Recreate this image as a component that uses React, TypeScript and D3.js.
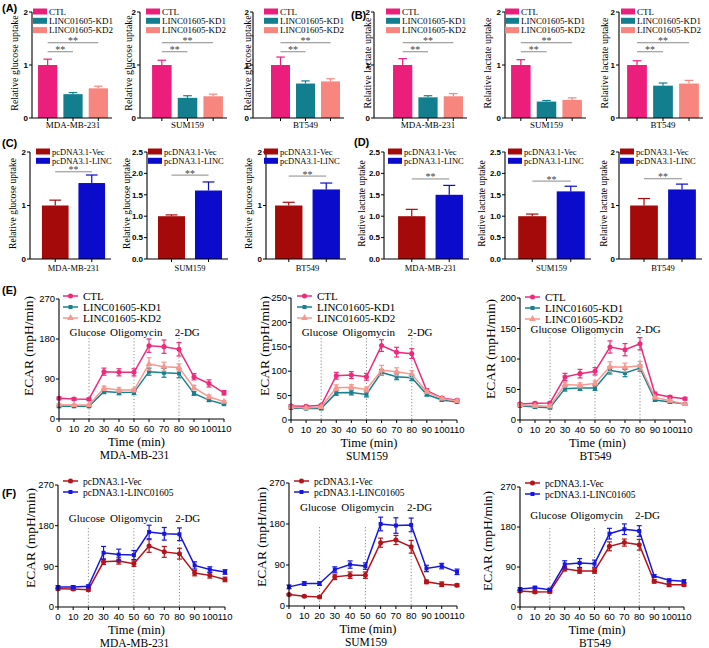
import React from 'react';
import * as d3 from 'd3';

const SERIF = '"Liberation Serif", "Times New Roman", serif';
const SANS = '"Liberation Sans", Arial, sans-serif';

// ---- bar data (A-D) ----
const cellLines = ['MDA-MB-231', 'SUM159', 'BT549'];
const kdGroups = ['CTL', 'LINC01605-KD1', 'LINC01605-KD2'];
const kdColors = ['#EC1E7B', '#137F8E', '#F7867E'];
const oeGroups = ['pcDNA3.1-Vec', 'pcDNA3.1-LINC'];
const oeColors = ['#A50A0A', '#0B0BCB'];

const glucoseKD = [[1.0, 0.45, 0.56], [1.0, 0.38, 0.41], [1.0, 0.65, 0.69]];
const glucoseKDErr = [[0.11, 0.03, 0.04], [0.09, 0.04, 0.04], [0.15, 0.05, 0.05]];
const lactateKD = [[1.0, 0.39, 0.41], [1.0, 0.31, 0.34], [1.0, 0.61, 0.65]];
const lactateKDErr = [[0.12, 0.03, 0.05], [0.1, 0.02, 0.04], [0.08, 0.05, 0.06]];
const kdSigLevels = [1.25, 1.42];

const glucoseOE = [[1.0, 1.42], [1.0, 1.6], [1.0, 1.3]];
const glucoseOEErr = [[0.1, 0.15], [0.03, 0.2], [0.06, 0.12]];
const glucoseOESig = [1.63, 1.96, 1.55];
const glucoseOEMax = [2, 2.5, 2];
const lactateOE = [[1.0, 1.5], [1.0, 1.58], [1.0, 1.3]];
const lactateOEErr = [[0.16, 0.22], [0.05, 0.12], [0.13, 0.1]];
const lactateOESig = [1.87, 1.82, 1.5];
const lactateOEMax = [2.5, 2.5, 2];

// ---- ECAR data (E-F) ----
const timeMin = [0, 10, 20, 30, 40, 50, 60, 70, 80, 90, 100, 110];
const injections = ['Glucose', 'Oligomycin', '2-DG'];
const injectionTimes = [20, 50, 80];

const ecarCTL = [
  [46.5, 45, 44.6, 106.5, 105, 105, 165, 162.8, 156.8, 95, 80, 59],
  [28.8, 28, 30, 90.7, 92, 88.6, 152.5, 139, 136, 60, 45, 40.5],
  [26.2, 27.3, 27.9, 70.5, 76, 79.8, 119.7, 115.3, 125, 42.6, 37.7, 35],
];
const ecarCTLErr = [
  [3, 3, 3, 8, 8, 8, 15, 15, 15, 7, 8, 5],
  [2, 2, 2, 7, 7, 7, 12, 10, 10, 4, 3, 2],
  [2, 2, 2, 6, 7, 6, 10, 10, 10, 3, 2, 2],
];
const ecarKD1 = [
  [28.5, 28.5, 28.5, 62, 59.5, 60, 106.5, 104, 102.6, 57.4, 42.4, 33.4],
  [24.7, 23.4, 23.4, 55.6, 56.3, 52.2, 97.5, 88.6, 86.6, 52.2, 41.2, 37],
  [23.5, 21.3, 20.2, 51.4, 52.5, 52.5, 81.4, 77, 85, 32.8, 29.5, 26.2],
];
const ecarKD1Err = [
  [2, 2, 2, 5, 5, 5, 8, 10, 10, 4, 3, 2],
  [2, 2, 2, 5, 5, 5, 6, 6, 6, 3, 3, 2],
  [2, 2, 2, 4, 4, 4, 6, 6, 5, 2, 2, 1.5],
];
const ecarKD2 = [
  [32.3, 31.5, 31.5, 69, 65.3, 65, 123.8, 117.8, 116, 70.5, 50, 39],
  [26.8, 24.7, 26.8, 66, 67.3, 62.5, 102, 99, 94, 57.7, 44, 39],
  [24.6, 23.5, 22.4, 58, 56.8, 60, 87.4, 86.3, 89, 37, 31.7, 26.2],
];
const ecarKD2Err = [
  [2, 2, 2, 5, 5, 4, 14, 10, 8, 5, 4, 2],
  [2, 2, 2, 6, 5, 5, 10, 8, 7, 3, 2, 2],
  [2, 2, 2, 4, 4, 4, 8, 7, 7, 2, 2, 1.5],
];
const ecarVec = [
  [40.6, 39.8, 38.4, 100, 102, 96, 135, 122, 118, 75, 70, 61],
  [25, 21.3, 19.9, 64, 67.7, 67.7, 139, 145, 130, 53, 47.8, 45.6],
  [36, 33.8, 34.5, 86, 81, 81, 136.5, 145, 140, 57.8, 50, 50],
];
const ecarVecErr = [
  [3, 3, 3, 6, 7, 6, 14, 12, 12, 6, 6, 5],
  [2, 2, 2, 6, 7, 7, 10, 10, 14, 4, 5, 3],
  [3, 3, 3, 5, 5, 5, 10, 8, 12, 4, 4, 3],
];
const ecarLINC = [
  [44.3, 44.3, 45.7, 120, 116, 115, 166, 162, 161, 92, 83, 77.5],
  [42, 49.3, 49.3, 80, 91, 87.6, 180, 176.6, 178, 82.4, 87.6, 75],
  [40.5, 43.5, 39, 96, 99, 97.5, 165, 175, 171, 69.8, 60, 58],
];
const ecarLINCErr = [
  [3, 3, 3, 14, 12, 10, 15, 14, 14, 8, 6, 5],
  [4, 4, 4, 6, 8, 7, 15, 17, 15, 7, 6, 6],
  [3, 3, 3, 8, 10, 8, 12, 12, 12, 3, 3, 3],
];
const kdLineColors = ['#EE2A7B', '#17818F', '#F7978E'];
const oeLineColors = ['#B3141A', '#1616E0'];

// ---- layout ----
const rowA = { top: 12, bottom: 118, labelY: 128, legY: 11.5, legFont: 9, labelFont: 9, titleFont: 10 };
const rowC = { top: 152, bottom: 259, labelY: 271, legY: 151.5, legFont: 8.5, labelFont: 8.5, titleFont: 9.5 };

const layoutA = [
  { axis: 32, band: [35, 111], titleX: 14, legX: 33 },
  { axis: 140, band: [149, 226], titleX: 128, legX: 146 },
  { axis: 253, band: [268, 343], titleX: 247, legX: 264 },
];
const layoutB = [
  { axis: 374, band: [390, 466], titleX: 367, legX: 386 },
  { axis: 505, band: [508, 585], titleX: 487, legX: 505 },
  { axis: 619, band: [624, 702], titleX: 604, legX: 621 },
];
const layoutC = [
  { axis: 30, band: [37, 110], titleX: 13, legX: 36 },
  { axis: 147, band: [153, 227], titleX: 127, legX: 148 },
  { axis: 266, band: [270, 345], titleX: 249, legX: 264 },
];
const layoutD = [
  { axis: 384, band: [393, 468], titleX: 362, legX: 388 },
  { axis: 505, band: [513, 590], titleX: 482, legX: 508 },
  { axis: 619, band: [625, 701], titleX: 604, legX: 620 },
];

const layoutE = [
  { left: 59, right: 224, top: 299, bottom: 419, yMax: 270, yStep: 90, titleX: 28, titleY: 346, dotTop: 338, injY: 336, legX: 63, legY: 296 },
  { left: 291, right: 457, top: 298, bottom: 420, yMax: 250, yStep: 50, titleX: 264, titleY: 346, dotTop: 338, injY: 336, legX: 297, legY: 296 },
  { left: 520, right: 685, top: 298, bottom: 420, yMax: 200, yStep: 50, titleX: 490, titleY: 349, dotTop: 334, injY: 333, legX: 525, legY: 297 },
];
const layoutF = [
  { left: 58, right: 225, top: 485, bottom: 607, yMax: 270, yStep: 90, titleX: 30, titleY: 538, dotTop: 528, injY: 522, legX: 63, legY: 481 },
  { left: 289, right: 457, top: 483, bottom: 606, yMax: 270, yStep: 90, titleX: 261, titleY: 537, dotTop: 527, injY: 511, legX: 294, legY: 481 },
  { left: 520, right: 684, top: 487, bottom: 607, yMax: 270, yStep: 90, titleX: 487, titleY: 541, dotTop: 528, injY: 519, legX: 525, legY: 483 },
];

type BarCfg = {
  axis: number; band: number[]; titleX: number; legX: number;
  row: any; groups: string[]; colors: string[]; values: number[]; errs: number[];
  yMax: number; yStep: number; title: string; cell: string;
  sig: { from: number; to: number; v: number }[]; pad: number;
};

function BarPanel({ c }: { c: BarCfg }) {
  const x = d3.scaleBand<string>().domain(c.groups).range([c.band[0], c.band[1]])
    .paddingInner(c.pad).paddingOuter(c.pad / 2);
  const y = d3.scaleLinear().domain([0, c.yMax]).range([c.row.bottom, c.row.top]);
  const ticks = d3.range(0, c.yMax + 1e-6, c.yStep);
  const fmt = c.yStep < 1 ? d3.format('.1f') : d3.format('d');
  const bw = x.bandwidth();
  const cx = (i: number) => (x(c.groups[i]) as number) + bw / 2;
  const cap = bw * 0.22;
  return (
    <g>
      {c.groups.map((g, i) => {
        const top = y(c.values[i]);
        const et = y(c.values[i] + c.errs[i]);
        return (
          <g key={g}>
            <line x1={cx(i)} x2={cx(i)} y1={top} y2={et} stroke={c.colors[i]} strokeWidth={1.2} />
            <line x1={cx(i) - cap} x2={cx(i) + cap} y1={et} y2={et} stroke={c.colors[i]} strokeWidth={1.2} />
            <rect x={x(g)} y={top} width={bw} height={c.row.bottom - top} fill={c.colors[i]} />
          </g>
        );
      })}
      {/* axes */}
      <line x1={c.axis} x2={c.axis} y1={c.row.bottom} y2={y(c.yMax)} stroke="#000" strokeWidth={1.1} />
      <line x1={c.axis} x2={c.band[1] + 1} y1={c.row.bottom} y2={c.row.bottom} stroke="#000" strokeWidth={1.1} />
      {ticks.map((t) => (
        <g key={t}>
          <line x1={c.axis - 3} x2={c.axis} y1={y(t)} y2={y(t)} stroke="#000" strokeWidth={1} />
          <text x={c.axis - 4} y={y(t) + 2.8} textAnchor="end" fontFamily={SANS} fontWeight="bold" fontSize={8}>{fmt(t)}</text>
        </g>
      ))}
      {c.groups.map((g, i) => (
        <line key={g} x1={cx(i)} x2={cx(i)} y1={c.row.bottom} y2={c.row.bottom + 3} stroke="#000" strokeWidth={1} />
      ))}
      <text x={(c.band[0] + c.band[1]) / 2} y={c.row.labelY} textAnchor="middle" fontFamily={SERIF} fontSize={c.row.labelFont}>{c.cell}</text>
      <text transform={`translate(${c.titleX},${(c.row.top + c.row.bottom) / 2 - 2}) rotate(-90)`} textAnchor="middle"
        dominantBaseline="central" fontFamily={SERIF} fontSize={c.row.titleFont}>{c.title}</text>
      {/* significance */}
      {c.sig.map((s, k) => (
        <g key={k}>
          <line x1={cx(s.from)} x2={cx(s.to)} y1={y(s.v)} y2={y(s.v)} stroke="#8a8a8a" strokeWidth={1} />
          <text x={(cx(s.from) + cx(s.to)) / 2} y={y(s.v) + 1.5} textAnchor="middle" fontFamily={SERIF} fontSize={10} fill="#444">**</text>
        </g>
      ))}
      {/* legend */}
      {c.groups.map((g, i) => (
        <g key={g}>
          <rect x={c.legX} y={c.row.legY + i * 9.3 - 3} width={14} height={6} fill={c.colors[i]} />
          <text x={c.legX + 16} y={c.row.legY + i * 9.3 + 3} fontFamily={SERIF} fontSize={c.row.legFont}>{g}</text>
        </g>
      ))}
    </g>
  );
}

function Marker({ shape, x, y, color }: { shape: string; x: number; y: number; color: string }) {
  const sym = shape === 'circle' ? d3.symbolCircle : shape === 'square' ? d3.symbolSquare : d3.symbolTriangle;
  const size = shape === 'circle' ? 20 : shape === 'square' ? 16 : 20;
  const d = d3.symbol(sym, size)() as string;
  return <path d={d} transform={`translate(${x},${y})`} fill={color} />;
}

type Series = { name: string; values: number[]; errs: number[]; color: string; shape: string };

function LinePanel({ c, series, cell, legendOrder }: { c: any; series: Series[]; cell: string; legendOrder: number[] }) {
  const x = d3.scaleLinear().domain([0, 110]).range([c.left, c.right]);
  const y = d3.scaleLinear().domain([0, c.yMax]).range([c.bottom, c.top]);
  const yTicks = d3.range(0, c.yMax + 1e-6, c.yStep);
  const line = d3.line<number>().x((_, i) => x(timeMin[i])).y((d) => y(d));
  const injX = [19, 51.5, 85.5];
  return (
    <g>
      {injectionTimes.map((t) => (
        <line key={t} x1={x(t)} x2={x(t)} y1={c.dotTop} y2={c.bottom} stroke="#8c8c8c" strokeWidth={1} strokeDasharray="1.2,2" />
      ))}
      {injections.map((s, i) => (
        <text key={s} x={x(injX[i])} y={c.injY} textAnchor="middle" fontFamily={SERIF} fontSize={11}>{s}</text>
      ))}
      {series.map((s) => (
        <g key={s.name}>
          <path d={line(s.values) as string} fill="none" stroke={s.color} strokeWidth={1.5} />
          {s.values.map((v, i) => {
            const px = x(timeMin[i]);
            const y1 = y(v + s.errs[i]);
            const y2 = y(v - s.errs[i]);
            return (
              <g key={i}>
                <line x1={px} x2={px} y1={y1} y2={y2} stroke={s.color} strokeWidth={1.2} />
                <line x1={px - 2.5} x2={px + 2.5} y1={y1} y2={y1} stroke={s.color} strokeWidth={1.2} />
                <line x1={px - 2.5} x2={px + 2.5} y1={y2} y2={y2} stroke={s.color} strokeWidth={1.2} />
                <Marker shape={s.shape} x={px} y={y(v)} color={s.color} />
              </g>
            );
          })}
        </g>
      ))}
      {/* axes */}
      <line x1={c.left} x2={c.left} y1={c.bottom} y2={c.top} stroke="#000" strokeWidth={1.1} />
      <line x1={c.left} x2={c.right} y1={c.bottom} y2={c.bottom} stroke="#000" strokeWidth={1.1} />
      {yTicks.map((t) => (
        <g key={t}>
          <line x1={c.left - 3} x2={c.left} y1={y(t)} y2={y(t)} stroke="#000" />
          <text x={c.left - 4} y={y(t) + 3.2} textAnchor="end" fontFamily={SANS} fontSize={9.5}>{t}</text>
        </g>
      ))}
      {timeMin.map((t) => (
        <g key={t}>
          <line x1={x(t)} x2={x(t)} y1={c.bottom} y2={c.bottom + 3} stroke="#000" />
          <text x={x(t)} y={c.bottom + 13} textAnchor="middle" fontFamily={SANS} fontSize={9.5}>{t}</text>
        </g>
      ))}
      <text x={(c.left + c.right) / 2 - 5} y={c.bottom + 27} textAnchor="middle" fontFamily={SERIF} fontSize={12.5}>Time (min)</text>
      <text x={(c.left + c.right) / 2 - 7} y={c.bottom + 40} textAnchor="middle" fontFamily={SERIF} fontSize={11.5}>{cell}</text>
      <text transform={`translate(${c.titleX},${c.titleY}) rotate(-90)`} textAnchor="middle" dominantBaseline="central"
        fontFamily={SERIF} fontSize={13.5}>ECAR (mpH/min)</text>
      {/* legend */}
      {legendOrder.map((si, k) => {
        const s = series[si];
        const ly = c.legY + k * 11;
        return (
          <g key={s.name}>
            <line x1={c.legX} x2={c.legX + 15} y1={ly} y2={ly} stroke={s.color} strokeWidth={1.5} />
            <Marker shape={s.shape} x={c.legX + 7.5} y={ly} color={s.color} />
            <text x={c.legX + 20} y={ly + 3.5} fontFamily={SERIF} fontSize={series.length === 3 ? 11 : 9.5}>{s.name}</text>
          </g>
        );
      })}
    </g>
  );
}

export default function App() {
  const kdSig = [{ from: 0, to: 1, v: kdSigLevels[0] }, { from: 0, to: 2, v: kdSigLevels[1] }];
  const barPanels: BarCfg[] = [];
  cellLines.forEach((cell, i) => {
    barPanels.push({ ...layoutA[i], row: rowA, groups: kdGroups, colors: kdColors, values: glucoseKD[i], errs: glucoseKDErr[i],
      yMax: 2, yStep: 1, title: 'Relative glucose uptake', cell, sig: kdSig, pad: 0.24 });
    barPanels.push({ ...layoutB[i], row: rowA, groups: kdGroups, colors: kdColors, values: lactateKD[i], errs: lactateKDErr[i],
      yMax: 2, yStep: 1, title: 'Relative lactate uptake', cell, sig: kdSig, pad: 0.24 });
    barPanels.push({ ...layoutC[i], row: rowC, groups: oeGroups, colors: oeColors, values: glucoseOE[i], errs: glucoseOEErr[i],
      yMax: glucoseOEMax[i], yStep: glucoseOEMax[i] === 2 ? 1 : 0.5, title: 'Relative glucose uptake', cell,
      sig: [{ from: 0, to: 1, v: glucoseOESig[i] }], pad: 0.27 });
    barPanels.push({ ...layoutD[i], row: rowC, groups: oeGroups, colors: oeColors, values: lactateOE[i], errs: lactateOEErr[i],
      yMax: lactateOEMax[i], yStep: lactateOEMax[i] === 2 ? 1 : 0.5, title: 'Relative lactate uptake', cell,
      sig: [{ from: 0, to: 1, v: lactateOESig[i] }], pad: 0.27 });
  });

  const panelLabels = [
    { t: '(A)', x: 2, y: 12 }, { t: '(B)', x: 351, y: 19 }, { t: '(C)', x: 2, y: 147 },
    { t: '(D)', x: 354, y: 146 }, { t: '(E)', x: 2, y: 294 }, { t: '(F)', x: 2, y: 497 },
  ];

  return (
    <svg width={709} height={648} style={{ position: 'absolute', left: 0, top: 0, background: '#fff' }}>
      <rect width={709} height={648} fill="#fff" />
      {barPanels.map((c, k) => <BarPanel key={k} c={c} />)}
      {cellLines.map((cell, i) => (
        <LinePanel key={'e' + i} c={layoutE[i]} cell={cell} legendOrder={[0, 1, 2]}
          series={[
            { name: kdGroups[0], values: ecarCTL[i], errs: ecarCTLErr[i], color: kdLineColors[0], shape: 'circle' },
            { name: kdGroups[1], values: ecarKD1[i], errs: ecarKD1Err[i], color: kdLineColors[1], shape: 'square' },
            { name: kdGroups[2], values: ecarKD2[i], errs: ecarKD2Err[i], color: kdLineColors[2], shape: 'triangle' },
          ]} />
      ))}
      {cellLines.map((cell, i) => (
        <LinePanel key={'f' + i} c={layoutF[i]} cell={cell} legendOrder={[0, 1]}
          series={[
            { name: 'pcDNA3.1-Vec', values: ecarVec[i], errs: ecarVecErr[i], color: oeLineColors[0], shape: 'circle' },
            { name: 'pcDNA3.1-LINC01605', values: ecarLINC[i], errs: ecarLINCErr[i], color: oeLineColors[1], shape: 'square' },
          ]} />
      ))}
      {panelLabels.map((p) => (
        <text key={p.t} x={p.x} y={p.y} fontFamily={SANS} fontWeight="bold" fontSize={11}>{p.t}</text>
      ))}
    </svg>
  );
}
